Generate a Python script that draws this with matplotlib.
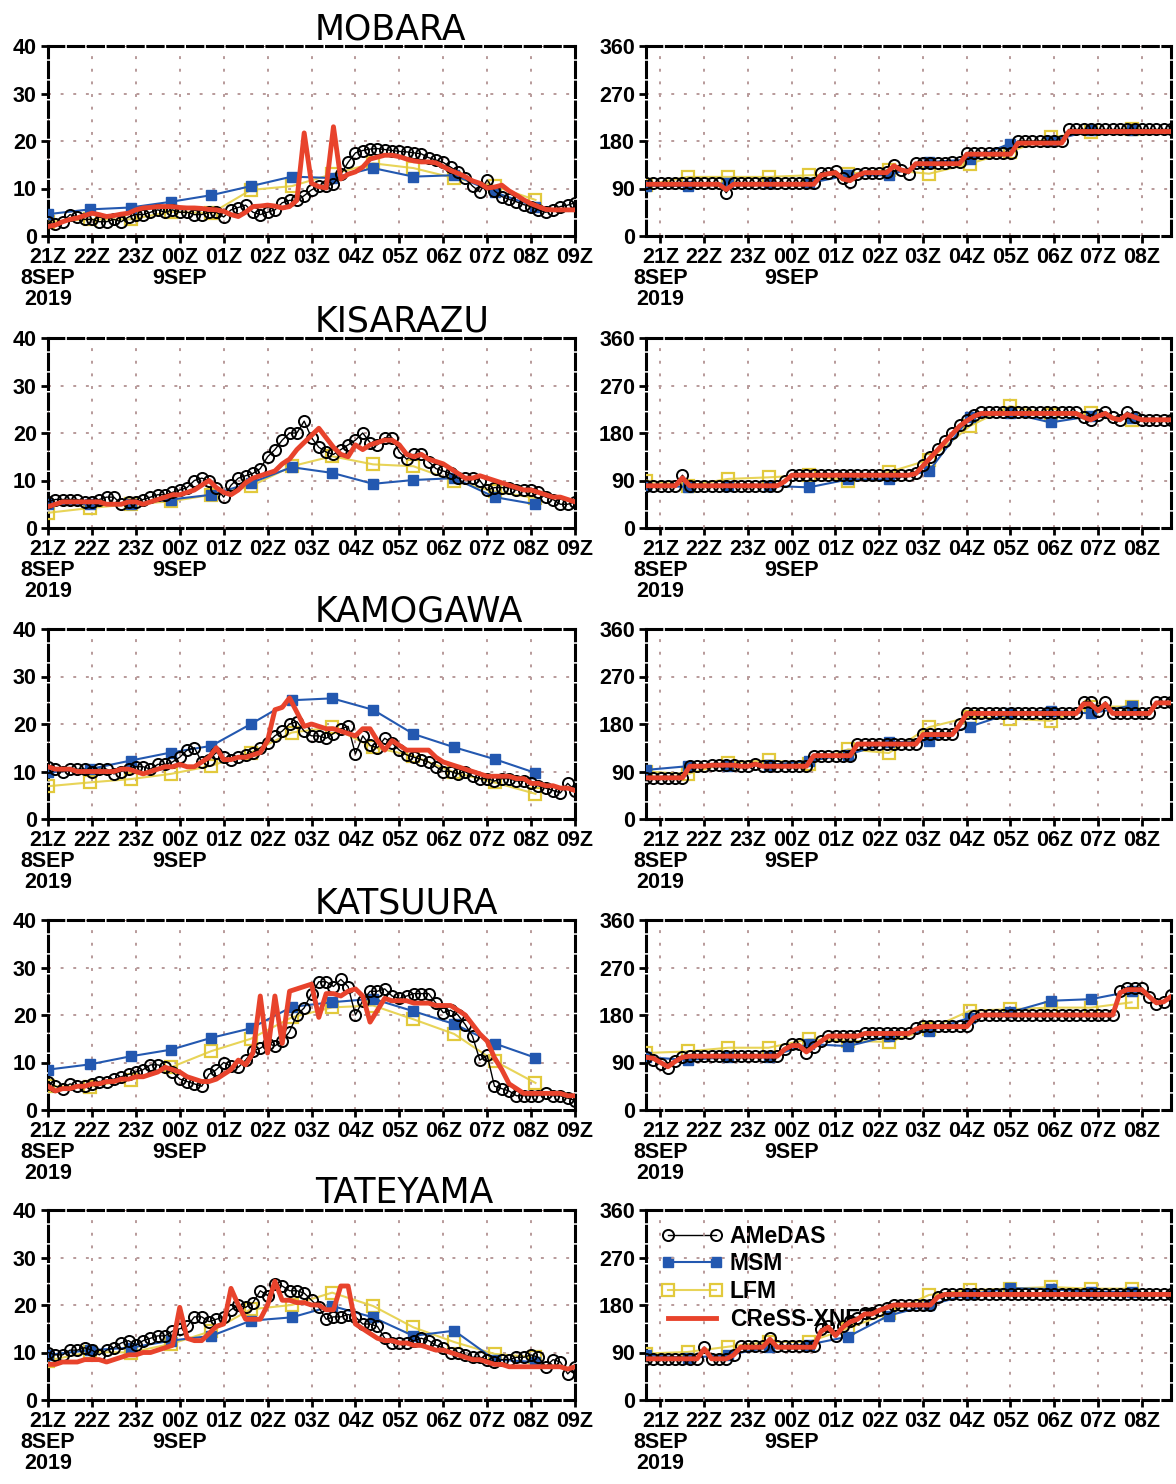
import numpy as np
import matplotlib
matplotlib.use("Agg")
import matplotlib.pyplot as plt

plt.rcParams["font.family"] = ["Liberation Sans", "DejaVu Sans"]

# time axes (hours after 21Z 8 Sep 2019)
t_obs = np.arange(73) / 6.0
t_model = [0.0, 0.95, 1.88, 2.8, 3.72, 4.62, 5.55, 6.47, 7.4, 8.32, 9.25, 10.17, 11.1]

stations = ["MOBARA", "KISARAZU", "KAMOGAWA", "KATSUURA", "TATEYAMA"]

# ---------------- wind speed (m/s) ----------------
mobara_amedas_spd = [3, 2.5, 3, 4.5, 4, 3.5, 3.5,
                     3, 3, 3.5, 3, 4, 4.5,
                     4.5, 5, 5.5, 5, 5.5, 5,
                     5, 4.5, 4.5, 5, 5, 4,
                     5.5, 6, 6.5, 5, 4.5, 5,
                     5.5, 7, 7.5, 7.5, 8.5, 9.7,
                     10.5, 10.5, 11, 13, 15.5, 17.5,
                     18, 18.3, 18.4, 18.2, 18, 17.8,
                     17.7, 17.5, 17.3, 16.5, 16, 15.5,
                     14.5, 13.5, 12.2, 10.5, 9.3, 11.8,
                     9.5, 8.3, 7.7, 7.2, 6.6, 6.2,
                     5.5, 5.0, 5.5, 6.2, 6.5, 7.0]
mobara_cress_spd = [2, 2.3, 3, 3.5, 3.8, 4.3, 4.8,
                    4.5, 4.1, 4.3, 4.6, 4.8, 5.5,
                    5.9, 6, 6.2, 6.2, 6.2, 6,
                    5.9, 5.9, 5.8, 5.6, 5.5, 5.2,
                    4.5, 4.1, 5, 6.2, 6.3, 6.5,
                    6.3, 5.9, 6.2, 7.5, 21.7, 11.1,
                    10.4, 10.1, 23, 12, 13, 13.5,
                    14.5, 16.2, 16.6, 17, 17, 16.7,
                    16.2, 15.8, 15.6, 15.6, 15.4, 14.6,
                    13.8, 13.2, 12.5, 11.6, 11.1, 10.1,
                    10.3, 10.7, 9.5, 8.6, 7.6, 6.8,
                    6.2, 5.6, 5.5, 5.5, 5.5, 5.5]
mobara_msm_spd = [4.6, 5.6, 6.0, 7.2, 8.6, 10.5, 12.5, 12.2, 14.3, 12.5, 12.8, 9.2, 6.2]
mobara_lfm_spd = [3, 3.5, 3.5, 5.1, 4.8, 9.7, 10.5, 13, 15.3, 14.3, 12.2, 10.5, 7.6]

kisarazu_amedas_spd = [5.5, 6, 6, 6, 6, 5.5, 5.5,
                       6, 6.5, 6.5, 5, 5.5, 5.5,
                       6, 6.5, 7, 7, 7.5, 8,
                       8.5, 10, 10.5, 10, 8.5, 6.5,
                       9, 10.5, 11, 11.5, 12.5, 15,
                       16.5, 18.5, 20, 20, 22.5, 19,
                       17, 16, 15.5, 16.5, 17.5, 18.5,
                       20, 18, 17.5, 19, 19, 16,
                       14.5, 15.5, 15.5, 14, 12.5, 12,
                       11.5, 10.5, 10.5, 10.5, 10, 8,
                       8.5, 8.5, 8.5, 8, 8, 8,
                       7.5, 6.5, 6, 5, 5, 5.5]
kisarazu_cress_spd = [4.5, 5, 5.5, 5.5, 5.5, 5.5, 5.5,
                      5.5, 5, 5, 5, 5.5, 5.5,
                      5, 5.5, 6, 6.5, 7, 7,
                      7.5, 8, 9, 10, 8.5, 7.5,
                      7, 8, 9.5, 10.5, 11, 11.5,
                      12, 13.5, 14.5, 16.5, 18, 19.5,
                      21, 19, 17, 15.5, 15, 17.5,
                      16.5, 17.5, 18, 18.5, 18.5, 17.5,
                      15.5, 15, 15.5, 14.5, 14, 13.5,
                      12.5, 11.5, 10.5, 10.5, 11, 10.5,
                      10, 9.5, 9, 8.5, 8, 8,
                      7.5, 7, 6.5, 6.5, 6, 5.5]
kisarazu_msm_spd = [5, 5, 5, 6, 7, 9.5, 12.8, 11.6, 9.3, 10.1, 10.5, 6.5, 5]
kisarazu_lfm_spd = [3.2, 4.2, 5, 5.6, 7, 8.8, 13, 15.1, 13.4, 13, 9.9, 7.7, 6.3]

kamogawa_amedas_spd = [11, 10.5, 10, 10.5, 10.5, 10.5, 10,
                       10.5, 10.5, 9.5, 10, 10.5, 11,
                       11, 10.5, 11.5, 11.5, 12, 13,
                       14.5, 15, 12, 12.5, 14, 13,
                       12.5, 13, 13.5, 14, 15, 16,
                       17.5, 18.5, 20, 20.5, 18.5, 17.5,
                       17.5, 17, 18, 19, 19.5, 13.7,
                       17.5, 15.5, 15, 17, 16, 14.5,
                       13.5, 13, 12.5, 12, 11, 10,
                       10, 9.5, 10, 9, 8.5, 8.5,
                       8, 8.5, 8.5, 8, 8, 7.5,
                       7, 6.5, 6, 5.5, 7.5, 6]
kamogawa_cress_spd = [11, 10.5, 10.5, 10.5, 10, 10, 10,
                      10, 10, 10, 10.5, 10.5, 10,
                      9.5, 10, 10.5, 11, 11, 11.5,
                      11, 11, 12, 13, 15, 12.5,
                      12.5, 13, 13, 13.5, 14, 16.5,
                      23, 23.5, 25.5, 22.5, 19.5, 20,
                      19.5, 19, 19, 18.5, 18, 17.5,
                      19, 19, 16.5, 14.5, 16.5, 15.5,
                      14.5, 14.5, 14.5, 14.5, 13, 12,
                      11.5, 11, 10.5, 10, 9.5, 9,
                      9, 9, 9, 8.5, 8.5, 7.5,
                      7.5, 7, 7, 6.5, 6.5, 6]
kamogawa_msm_spd = [9.8, 10.5, 12.3, 14, 15.4, 20, 25, 25.4, 23, 17.9, 15.1, 12.6, 9.7]
kamogawa_lfm_spd = [6.9, 7.7, 8.4, 9.5, 11.2, 14, 18.2, 19.3, 15.1, 13.3, 9.8, 7.7, 5.3]

katsuura_amedas_spd = [6, 5, 4.5, 5.5, 5, 5, 5.5,
                       6, 6, 6.5, 7, 7.5, 8,
                       8.5, 9.5, 9.5, 9, 8, 6.5,
                       6, 5.5, 5, 7.5, 8.5, 10,
                       9.2, 9, 10.5, 12.5, 13, 14,
                       13.5, 14.5, 16.5, 20, 21.5, 24.5,
                       27, 27, 26, 27.5, 26, 20,
                       23, 25, 25, 25.5, 24, 23.5,
                       24, 24.5, 24.5, 24.5, 22.5, 20.5,
                       21, 20, 18, 15.5, 10.5, 11.5,
                       5, 4.5, 4, 3, 3, 3,
                       3, 3.5, 3, 3, 2.5, 2]
katsuura_cress_spd = [5, 4, 4.5, 4.5, 5, 5, 5.5,
                      5.5, 6, 6, 6.5, 6.5, 7,
                      7, 7.5, 8, 9, 8.5, 8,
                      7, 6.5, 6, 6, 6.5, 7.5,
                      8.5, 10.5, 9.5, 12, 24, 12,
                      24, 14, 25, 25.5, 26, 26.5,
                      19.5, 24.5, 24.5, 24, 25, 25.5,
                      24, 18.5, 21, 23.5, 23, 23,
                      23, 22.5, 22.5, 22.5, 22, 22,
                      22, 21, 20, 18, 16, 14.5,
                      11, 8.5, 5.5, 4.5, 3.5, 3.5,
                      3.5, 3.5, 3.5, 3.5, 3, 3]
katsuura_msm_spd = [8.5, 9.6, 11.3, 12.7, 15.2, 17.2, 21.7, 22.7, 23.4, 20.8, 18.1, 14, 11]
katsuura_lfm_spd = [5, 4.9, 6.4, 9, 12.4, 15, 19.5, 21.6, 22, 19.1, 16, 10.3, 5.7]

tateyama_amedas_spd = [10, 9.5, 9.5, 10.5, 10.5, 11, 10.5,
                       9.5, 10.5, 11, 12, 12.5, 11.5,
                       12.5, 13, 13.5, 13.5, 14.5, 15,
                       15.5, 17.5, 17.5, 16.5, 17, 17.5,
                       19, 20, 19.5, 20.5, 23, 22,
                       24.5, 24, 23, 23, 22.5, 21,
                       19.5, 17, 17.5, 17.5, 18, 17.5,
                       16, 16, 15.5, 13, 12, 12,
                       12, 12.5, 13, 12.5, 11.5, 11,
                       10, 10, 9.5, 9, 9, 8.5,
                       8, 8.5, 8.5, 9, 9, 9.5,
                       9, 7, 8.5, 8, 5.5, 7]
tateyama_cress_spd = [7.5, 7.5, 8, 8, 8, 8.5, 8.5,
                      8.5, 8, 8.5, 9, 9.5, 9.5,
                      10, 10, 10.5, 11, 11.5, 19.5,
                      13, 12.5, 12.5, 14, 15.5, 16,
                      23.5, 20, 17, 17, 17, 20,
                      25, 21, 21, 20.5, 20.5, 20,
                      20, 19, 19, 24, 24, 16,
                      15, 14, 13, 12.5, 12.5, 12,
                      12, 11.5, 11.5, 11, 10.5, 10.5,
                      10, 9.5, 9, 8.5, 8.5, 8,
                      7.5, 7.5, 7, 7, 7, 7,
                      7, 7, 7, 7, 6.5, 7]
tateyama_msm_spd = [9.5, 10.5, 11, 12.5, 13.5, 16.7, 17.4, 19.8, 17.4, 13.5, 14.6, 8.5, 8]
tateyama_lfm_spd = [8.3, 10.1, 10, 11.8, 14.5, 19.1, 20, 22.6, 19.8, 15.3, 12.2, 9.7, 9]

# ---------------- wind direction (deg) ----------------
mobara_amedas_dir = [100, 100, 100, 100, 100, 100, 100,
                     100, 100, 100, 100, 82, 100,
                     100, 100, 100, 100, 100, 100,
                     100, 100, 100, 100, 100, 120,
                     120, 123, 110, 102, 118, 120,
                     120, 120, 122, 135, 125, 118,
                     138, 138, 138, 138, 138, 140,
                     140, 158, 158, 158, 158, 158,
                     158, 158, 180, 180, 180, 180,
                     180, 180, 180, 202, 202, 202,
                     202, 202, 202, 202, 202, 202,
                     202, 202, 202, 202, 202, 202]
mobara_cress_dir = [98, 98, 98, 98, 98, 98, 98,
                    98, 98, 98, 98, 88, 98,
                    98, 98, 98, 98, 98, 98,
                    98, 98, 98, 98, 98, 115,
                    118, 120, 108, 105, 115, 120,
                    120, 120, 120, 133, 125, 122,
                    137, 137, 137, 137, 137, 137,
                    137, 155, 155, 155, 155, 155,
                    155, 155, 176, 176, 176, 176,
                    176, 176, 176, 198, 198, 198,
                    198, 198, 198, 198, 198, 198,
                    198, 198, 198, 198, 198, 198]
mobara_msm_dir = [95, 95, 100, 100, 100, 115, 115, 140, 145, 175, 180, 200, 200]
mobara_lfm_dir = [96, 112, 112, 112, 115, 118, 125, 118, 137, 160, 187, 197, 203]

kisarazu_amedas_dir = [80, 80, 80, 80, 80, 100, 80,
                       80, 80, 80, 80, 80, 80,
                       80, 80, 80, 80, 80, 80,
                       90, 100, 100, 100, 100, 100,
                       100, 100, 100, 100, 100, 100,
                       100, 100, 100, 100, 100, 100,
                       105, 120, 135, 150, 165, 180,
                       195, 205, 215, 220, 220, 220,
                       220, 220, 220, 220, 220, 220,
                       220, 220, 220, 220, 220, 210,
                       205, 215, 220, 210, 205, 220,
                       210, 205, 205, 205, 205, 205]
kisarazu_cress_dir = [80, 80, 80, 80, 80, 95, 80,
                      80, 80, 80, 80, 80, 80,
                      80, 80, 80, 80, 80, 80,
                      88, 100, 100, 100, 100, 100,
                      100, 100, 100, 100, 100, 100,
                      100, 100, 100, 100, 100, 100,
                      103, 118, 133, 148, 163, 178,
                      193, 203, 212, 217, 217, 217,
                      217, 217, 217, 217, 217, 217,
                      217, 217, 217, 217, 217, 210,
                      205, 212, 217, 208, 205, 215,
                      210, 205, 205, 205, 205, 205]
kisarazu_msm_dir = [80, 78, 80, 80, 77, 92, 92, 108, 210, 218, 200, 212, 208]
kisarazu_lfm_dir = [90, 80, 93, 96, 100, 90, 106, 129, 193, 231, 215, 218, 205]

kamogawa_amedas_dir = [78, 78, 78, 78, 78, 78, 100,
                       100, 100, 102, 102, 102, 102,
                       100, 100, 105, 100, 100, 100,
                       100, 100, 100, 100, 120, 120,
                       120, 120, 120, 120, 143, 143,
                       143, 143, 143, 143, 143, 143,
                       143, 162, 162, 162, 162, 162,
                       180, 200, 200, 200, 200, 200,
                       200, 200, 200, 200, 200, 200,
                       200, 200, 200, 200, 200, 222,
                       222, 205, 222, 200, 200, 200,
                       200, 200, 200, 222, 222, 222]
kamogawa_cress_dir = [78, 78, 78, 78, 78, 78, 100,
                      100, 100, 102, 102, 102, 102,
                      100, 100, 104, 100, 100, 100,
                      100, 100, 100, 100, 120, 120,
                      120, 120, 120, 120, 142, 142,
                      142, 142, 142, 142, 142, 142,
                      142, 160, 160, 160, 160, 160,
                      178, 200, 200, 200, 200, 200,
                      200, 200, 200, 200, 200, 200,
                      200, 200, 200, 200, 200, 218,
                      218, 205, 218, 200, 200, 200,
                      200, 200, 200, 220, 220, 220]
kamogawa_msm_dir = [93, 100, 100, 102, 110, 122, 145, 148, 175, 200, 205, 200, 215]
kamogawa_lfm_dir = [90, 85, 107, 111, 105, 132, 125, 174, 193, 190, 186, 213, 213]

katsuura_amedas_dir = [100, 95, 88, 80, 92, 100, 103,
                       103, 103, 103, 103, 103, 103,
                       103, 103, 103, 103, 103, 103,
                       115, 125, 125, 108, 120, 130,
                       140, 140, 140, 140, 140, 145,
                       145, 145, 145, 145, 145, 145,
                       155, 160, 160, 160, 160, 160,
                       160, 160, 178, 180, 180, 180,
                       180, 180, 180, 180, 180, 180,
                       180, 180, 180, 180, 180, 180,
                       180, 180, 180, 180, 225, 232,
                       232, 232, 215, 200, 205, 218]
katsuura_cress_dir = [100, 98, 90, 82, 92, 100, 102,
                      102, 102, 102, 102, 102, 102,
                      102, 102, 102, 102, 102, 102,
                      115, 122, 122, 110, 120, 130,
                      140, 140, 140, 140, 140, 145,
                      145, 145, 145, 145, 145, 145,
                      153, 158, 158, 158, 158, 158,
                      158, 158, 175, 180, 180, 180,
                      180, 180, 180, 180, 180, 180,
                      180, 180, 180, 180, 180, 180,
                      180, 180, 180, 180, 222, 228,
                      228, 228, 215, 203, 205, 215]
katsuura_msm_dir = [100, 95, 100, 100, 125, 121, 140, 150, 175, 185, 207, 210, 225]
katsuura_lfm_dir = [108, 111, 118, 118, 134, 131, 129, 153, 188, 191, 194, 194, 204]

tateyama_amedas_dir = [78, 78, 78, 78, 78, 78, 78,
                       78, 100, 78, 78, 78, 85,
                       103, 103, 103, 103, 118, 103,
                       103, 103, 103, 103, 103, 135,
                       140, 122, 140, 150, 155, 165,
                       165, 170, 175, 180, 180, 180,
                       180, 180, 180, 195, 200, 200,
                       200, 200, 200, 200, 200, 200,
                       200, 200, 200, 200, 200, 200,
                       200, 200, 200, 200, 200, 200,
                       200, 200, 200, 200, 200, 200,
                       200, 200, 200, 200, 200, 200]
tateyama_cress_dir = [78, 78, 78, 78, 78, 78, 78,
                      78, 97, 78, 78, 78, 85,
                      100, 100, 100, 100, 115, 100,
                      100, 100, 100, 100, 100, 130,
                      138, 122, 138, 148, 153, 163,
                      163, 170, 175, 180, 180, 180,
                      180, 180, 180, 195, 200, 200,
                      200, 200, 200, 200, 200, 200,
                      200, 200, 200, 200, 200, 200,
                      200, 200, 200, 200, 200, 200,
                      200, 200, 200, 200, 200, 200,
                      200, 200, 200, 200, 200, 200]
tateyama_msm_dir = [85, 80, 85, 100, 105, 120, 160, 180, 200, 212, 210, 205, 205]
tateyama_lfm_dir = [88, 91, 101, 110, 110, 136, 165, 199, 208, 211, 214, 211, 211]

speed = {
    "MOBARA": (mobara_amedas_spd, mobara_msm_spd, mobara_lfm_spd, mobara_cress_spd),
    "KISARAZU": (kisarazu_amedas_spd, kisarazu_msm_spd, kisarazu_lfm_spd, kisarazu_cress_spd),
    "KAMOGAWA": (kamogawa_amedas_spd, kamogawa_msm_spd, kamogawa_lfm_spd, kamogawa_cress_spd),
    "KATSUURA": (katsuura_amedas_spd, katsuura_msm_spd, katsuura_lfm_spd, katsuura_cress_spd),
    "TATEYAMA": (tateyama_amedas_spd, tateyama_msm_spd, tateyama_lfm_spd, tateyama_cress_spd),
}
direction = {
    "MOBARA": (mobara_amedas_dir, mobara_msm_dir, mobara_lfm_dir, mobara_cress_dir),
    "KISARAZU": (kisarazu_amedas_dir, kisarazu_msm_dir, kisarazu_lfm_dir, kisarazu_cress_dir),
    "KAMOGAWA": (kamogawa_amedas_dir, kamogawa_msm_dir, kamogawa_lfm_dir, kamogawa_cress_dir),
    "KATSUURA": (katsuura_amedas_dir, katsuura_msm_dir, katsuura_lfm_dir, katsuura_cress_dir),
    "TATEYAMA": (tateyama_amedas_dir, tateyama_msm_dir, tateyama_lfm_dir, tateyama_cress_dir),
}

hour_labels = ["21Z\n8SEP\n2019", "22Z", "23Z", "00Z\n9SEP", "01Z", "02Z", "03Z",
               "04Z", "05Z", "06Z", "07Z", "08Z", "09Z"]

BLUE = "#2358b0"
YELLOW = "#e8d458"
RED = "#e8432c"
GRID = "#b89a9a"

W, H = 1176, 1484
fig = plt.figure(figsize=(W / 100, H / 100), dpi=100)
tops = [46, 338, 629, 920, 1210]
title_base = [40, 332, 622, 913, 1203]


def style_axes(ax, yticks):
    for s in ax.spines.values():
        s.set_linewidth(2.2)
        s.set_linestyle((0, (5, 1.5)))
    ax.set_yticks(yticks)
    ax.set_ylim(yticks[0], yticks[-1])
    ax.grid(True, color=GRID, linestyle=(0, (1.5, 5)), linewidth=1.4)
    ax.tick_params(direction="out", length=5, width=2, labelsize=15.5, pad=3)
    for lab in ax.get_xticklabels() + ax.get_yticklabels():
        lab.set_fontweight("bold")
        lab.set_linespacing(1.0)


def draw(ax, t_a, series):
    amedas, msm, lfm, cress = series
    ax.plot(t_model, lfm, color=YELLOW, lw=1.5, marker="s", ms=8, mfc="none",
            mec="#e2c93c", mew=1.6, zorder=3, label="LFM")
    ax.plot(t_model, msm, color=BLUE, lw=1.5, marker="s", ms=7, mfc=BLUE,
            mec=BLUE, zorder=3, label="MSM")
    ax.plot(t_a, amedas, color="black", lw=1.0, marker="o", ms=8, mfc="none",
            mec="black", mew=1.4, zorder=4, label="AMeDAS")
    ax.plot(t_a, cress, color=RED, lw=3.5, zorder=5, label="CReSS-XNET")


for r, name in enumerate(stations):
    top = tops[r]
    y0 = 1 - (top + 190) / H
    axl = fig.add_axes([48 / W, y0, 527 / W, 190 / H])
    axr = fig.add_axes([646 / W, y0, 525 / W, 190 / H])

    draw(axl, t_obs, speed[name])
    axl.set_xlim(0, 12)
    axl.set_xticks(range(13))
    axl.set_xticklabels(hour_labels)
    style_axes(axl, [0, 10, 20, 30, 40])

    draw(axr, t_obs, direction[name])
    axr.set_xlim(0, 12)
    axr.set_xticks(np.arange(12) + 0.33)
    axr.set_xticklabels(hour_labels[:12])
    style_axes(axr, [0, 90, 180, 270, 360])

    fig.text(315 / W, 1 - title_base[r] / H, name, fontsize=25,
             family=["DejaVu Sans"], ha="left", va="baseline")

    if r == 4:
        h, l = axr.get_legend_handles_labels()
        order = [2, 1, 0, 3]
        leg = axr.legend([h[i] for i in order], [l[i] for i in order],
                         loc="upper left", frameon=False, numpoints=2,
                         handlelength=2.7, handletextpad=0.3, labelspacing=0.2,
                         borderaxespad=0.25, prop={"weight": "bold", "size": 16.5})
        leg.set_zorder(1)

fig.savefig("out.png", dpi=100)
